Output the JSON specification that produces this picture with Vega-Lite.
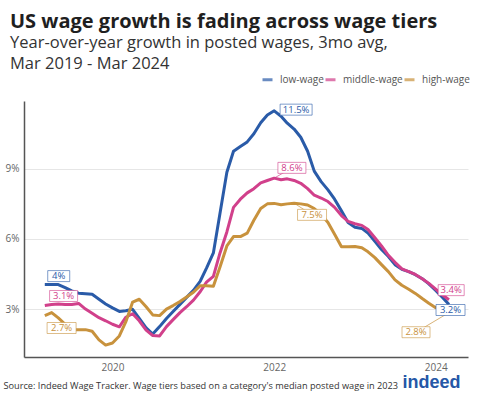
{
  "$schema": "https://vega.github.io/schema/vega-lite/v6.json",
  "width": 444,
  "height": 256,
  "autosize": {"type": "none"},
  "padding": {"left": 24, "top": 101, "right": 11, "bottom": 39},
  "background": "white",
  "config": {"font": "Open Sans", "view": {"stroke": null}},
  "title": {
    "text": "US wage growth is fading across wage tiers",
    "subtitle": ["Year-over-year growth in posted wages, 3mo avg,", "Mar 2019 - Mar 2024"],
    "anchor": "start",
    "frame": "group",
    "dx": -14,
    "offset": 1,
    "fontSize": 20,
    "fontWeight": "bold",
    "color": "#1f1f1f",
    "subtitleFontSize": 16.5,
    "subtitleColor": "#333333",
    "subtitlePadding": 3,
    "subtitleLineHeight": 21
  },
  "datasets": {
    "series": [
      {"date": "2019-03-01", "low-wage": 4.05, "middle-wage": 3.15, "high-wage": 2.72},
      {"date": "2019-04-01", "low-wage": 4.05, "middle-wage": 3.2, "high-wage": 2.85},
      {"date": "2019-05-01", "low-wage": 4.05, "middle-wage": 3.22, "high-wage": 2.62},
      {"date": "2019-06-01", "low-wage": 3.92, "middle-wage": 3.2, "high-wage": 2.35},
      {"date": "2019-07-01", "low-wage": 3.78, "middle-wage": 3.2, "high-wage": 2.12},
      {"date": "2019-08-01", "low-wage": 3.68, "middle-wage": 3.24, "high-wage": 2.12},
      {"date": "2019-09-01", "low-wage": 3.66, "middle-wage": 3.0, "high-wage": 2.12},
      {"date": "2019-10-01", "low-wage": 3.63, "middle-wage": 2.82, "high-wage": 2.05},
      {"date": "2019-11-01", "low-wage": 3.42, "middle-wage": 2.63, "high-wage": 1.68},
      {"date": "2019-12-01", "low-wage": 3.22, "middle-wage": 2.5, "high-wage": 1.46},
      {"date": "2020-01-01", "low-wage": 3.05, "middle-wage": 2.35, "high-wage": 1.55},
      {"date": "2020-02-01", "low-wage": 2.9, "middle-wage": 2.24, "high-wage": 1.85},
      {"date": "2020-03-01", "low-wage": 2.93, "middle-wage": 2.65, "high-wage": 2.45},
      {"date": "2020-04-01", "low-wage": 2.99, "middle-wage": 2.8, "high-wage": 3.3},
      {"date": "2020-05-01", "low-wage": 2.6, "middle-wage": 2.5, "high-wage": 3.42},
      {"date": "2020-06-01", "low-wage": 2.2, "middle-wage": 2.1, "high-wage": 3.1},
      {"date": "2020-07-01", "low-wage": 1.93, "middle-wage": 1.87, "high-wage": 2.75},
      {"date": "2020-08-01", "low-wage": 2.25, "middle-wage": 1.85, "high-wage": 2.72},
      {"date": "2020-09-01", "low-wage": 2.6, "middle-wage": 2.25, "high-wage": 3.0},
      {"date": "2020-10-01", "low-wage": 2.9, "middle-wage": 2.55, "high-wage": 3.15},
      {"date": "2020-11-01", "low-wage": 3.2, "middle-wage": 2.85, "high-wage": 3.32},
      {"date": "2020-12-01", "low-wage": 3.5, "middle-wage": 3.1, "high-wage": 3.52},
      {"date": "2021-01-01", "low-wage": 3.8, "middle-wage": 3.38, "high-wage": 3.72},
      {"date": "2021-02-01", "low-wage": 4.2, "middle-wage": 3.75, "high-wage": 4.0},
      {"date": "2021-03-01", "low-wage": 4.75, "middle-wage": 4.15, "high-wage": 4.0},
      {"date": "2021-04-01", "low-wage": 5.4, "middle-wage": 4.4, "high-wage": 3.98},
      {"date": "2021-05-01", "low-wage": 7.1, "middle-wage": 5.4, "high-wage": 4.8},
      {"date": "2021-06-01", "low-wage": 8.85, "middle-wage": 6.3, "high-wage": 5.7},
      {"date": "2021-07-01", "low-wage": 9.75, "middle-wage": 7.35, "high-wage": 6.1},
      {"date": "2021-08-01", "low-wage": 9.95, "middle-wage": 7.7, "high-wage": 6.1},
      {"date": "2021-09-01", "low-wage": 10.15, "middle-wage": 7.97, "high-wage": 6.25},
      {"date": "2021-10-01", "low-wage": 10.5, "middle-wage": 8.15, "high-wage": 6.8},
      {"date": "2021-11-01", "low-wage": 10.97, "middle-wage": 8.4, "high-wage": 7.3},
      {"date": "2021-12-01", "low-wage": 11.3, "middle-wage": 8.5, "high-wage": 7.5},
      {"date": "2022-01-01", "low-wage": 11.48, "middle-wage": 8.6, "high-wage": 7.52},
      {"date": "2022-02-01", "low-wage": 11.25, "middle-wage": 8.53, "high-wage": 7.46},
      {"date": "2022-03-01", "low-wage": 10.95, "middle-wage": 8.57, "high-wage": 7.5},
      {"date": "2022-04-01", "low-wage": 10.7, "middle-wage": 8.5, "high-wage": 7.53},
      {"date": "2022-05-01", "low-wage": 10.35, "middle-wage": 8.38, "high-wage": 7.5},
      {"date": "2022-06-01", "low-wage": 9.75, "middle-wage": 8.15, "high-wage": 7.45},
      {"date": "2022-07-01", "low-wage": 8.9, "middle-wage": 7.87, "high-wage": 7.3},
      {"date": "2022-08-01", "low-wage": 8.45, "middle-wage": 7.75, "high-wage": 7.05},
      {"date": "2022-09-01", "low-wage": 8.1, "middle-wage": 7.6, "high-wage": 6.7},
      {"date": "2022-10-01", "low-wage": 7.7, "middle-wage": 7.35, "high-wage": 6.2},
      {"date": "2022-11-01", "low-wage": 7.2, "middle-wage": 7.0, "high-wage": 5.67},
      {"date": "2022-12-01", "low-wage": 6.7, "middle-wage": 6.75, "high-wage": 5.67},
      {"date": "2023-01-01", "low-wage": 6.5, "middle-wage": 6.65, "high-wage": 5.68},
      {"date": "2023-02-01", "low-wage": 6.45, "middle-wage": 6.58, "high-wage": 5.62},
      {"date": "2023-03-01", "low-wage": 6.25, "middle-wage": 6.4, "high-wage": 5.45},
      {"date": "2023-04-01", "low-wage": 5.9, "middle-wage": 6.05, "high-wage": 5.2},
      {"date": "2023-05-01", "low-wage": 5.55, "middle-wage": 5.7, "high-wage": 4.9},
      {"date": "2023-06-01", "low-wage": 5.25, "middle-wage": 5.3, "high-wage": 4.6},
      {"date": "2023-07-01", "low-wage": 4.9, "middle-wage": 5.0, "high-wage": 4.25},
      {"date": "2023-08-01", "low-wage": 4.7, "middle-wage": 4.72, "high-wage": 4.02},
      {"date": "2023-09-01", "low-wage": 4.6, "middle-wage": 4.6, "high-wage": 3.85},
      {"date": "2023-10-01", "low-wage": 4.47, "middle-wage": 4.48, "high-wage": 3.67},
      {"date": "2023-11-01", "low-wage": 4.3, "middle-wage": 4.3, "high-wage": 3.45},
      {"date": "2023-12-01", "low-wage": 4.08, "middle-wage": 4.1, "high-wage": 3.25},
      {"date": "2024-01-01", "low-wage": 3.8, "middle-wage": 3.85, "high-wage": 3.06},
      {"date": "2024-02-01", "low-wage": 3.5, "middle-wage": 3.6, "high-wage": 2.97},
      {"date": "2024-03-01", "low-wage": 3.2, "middle-wage": 3.4, "high-wage": 2.85}
    ],
    "labels": [
      {"tier": "low-wage", "text": "4%", "date": "2019-05-03", "v": 4.41, "adate": "2019-03-01", "av": 4.05},
      {"tier": "middle-wage", "text": "3.1%", "date": "2019-05-25", "v": 3.56, "adate": "2019-03-01", "av": 3.15},
      {"tier": "high-wage", "text": "2.7%", "date": "2019-05-16", "v": 2.19, "adate": "2019-03-01", "av": 2.72},
      {"tier": "low-wage", "text": "11.5%", "date": "2022-04-10", "v": 11.53, "adate": "2022-01-01", "av": 11.48},
      {"tier": "middle-wage", "text": "8.6%", "date": "2022-03-22", "v": 9.04, "adate": "2022-01-01", "av": 8.6},
      {"tier": "high-wage", "text": "7.5%", "date": "2022-06-21", "v": 7.03, "adate": "2022-04-01", "av": 7.53},
      {"tier": "middle-wage", "text": "3.4%", "date": "2024-03-11", "v": 3.81, "adate": "2024-03-01", "av": 3.4},
      {"tier": "low-wage", "text": "3.2%", "date": "2024-03-08", "v": 2.96, "adate": "2024-03-01", "av": 3.2},
      {"tier": "high-wage", "text": "2.8%", "date": "2023-10-04", "v": 2.01, "adate": "2024-03-01", "av": 2.85}
    ]
  },
  "encoding": {
    "x": {
      "field": "date",
      "type": "temporal",
      "scale": {"domain": [{"year": 2018, "month": 11, "date": 27}, {"year": 2024, "month": 5, "date": 26}]},
      "axis": {
        "values": [{"year": 2020, "month": 1, "date": 1}, {"year": 2022, "month": 1, "date": 1}, {"year": 2024, "month": 1, "date": 1}],
        "format": "%Y",
        "grid": false,
        "ticks": false,
        "tickSize": 0,
        "labelPadding": 5,
        "labelFontSize": 10,
        "labelColor": "#666666",
        "domainColor": "#555555",
        "domainWidth": 1.5,
        "title": "Source: Indeed Wage Tracker. Wage tiers based on a category's median posted wage in 2023",
        "titleFontSize": 9.2,
        "titleFontWeight": "normal",
        "titleColor": "#333333",
        "titleAnchor": "start",
        "titleAlign": "left",
        "titleBaseline": "middle",
        "titleX": -21,
        "titleY": 28
      }
    },
    "y": {
      "field": "v",
      "type": "quantitative",
      "scale": {"domain": [0.95, 11.9]},
      "axis": {
        "values": [3, 6, 9],
        "labelExpr": "datum.value + '%'",
        "ticks": false,
        "tickSize": 0,
        "labelPadding": 5,
        "labelFontSize": 10,
        "labelColor": "#666666",
        "domainColor": "#555555",
        "domainWidth": 1.5,
        "gridColor": "#e6e6e6",
        "title": null
      }
    },
    "color": {
      "field": "tier",
      "type": "nominal",
      "scale": {"domain": ["low-wage", "middle-wage", "high-wage"], "range": ["#2a5ba8", "#d1408b", "#c8923d"]},
      "legend": {
        "title": null,
        "orient": "none",
        "legendX": 237,
        "legendY": -28,
        "direction": "horizontal",
        "symbolType": "stroke",
        "symbolStrokeWidth": 3,
        "symbolSize": 100,
        "labelFontSize": 10,
        "labelColor": "#555555",
        "labelOffset": 6,
        "columnPadding": -6
      }
    }
  },
  "layer": [
    {
      "layer": [
        {
          "data": {"name": "series"},
          "transform": [{"fold": ["low-wage", "middle-wage", "high-wage"], "as": ["tier", "v"]}],
          "mark": {"type": "line", "strokeWidth": 3, "strokeJoin": "round"}
        },
        {
          "data": {"name": "labels"},
          "transform": [{"filter": {"field": "text", "oneOf": ["8.6%", "7.5%", "2.8%"]}}],
          "mark": {"type": "rule", "strokeWidth": 1, "opacity": 0.7},
          "encoding": {"x2": {"field": "adate"}, "y2": {"field": "av"}}
        },
        {
          "data": {"name": "labels"},
          "mark": {"type": "point", "filled": false, "fill": "white", "fillOpacity": 1, "opacity": 1, "strokeWidth": 1, "strokeOpacity": 0.6, "size": 400},
          "encoding": {
            "shape": {
              "field": "text",
              "type": "nominal",
              "legend": null,
              "scale": {
                "domain": ["4%", "3.1%", "2.7%", "11.5%", "8.6%", "7.5%", "3.4%", "3.2%", "2.8%"],
                "range": [
                  "M-1.1,-0.55H1.1V0.55H-1.1Z",
                  "M-1.4,-0.55H1.4V0.55H-1.4Z",
                  "M-1.45,-0.55H1.45V0.55H-1.45Z",
                  "M-1.6,-0.55H1.6V0.55H-1.6Z",
                  "M-1.4,-0.55H1.4V0.55H-1.4Z",
                  "M-1.45,-0.55H1.45V0.55H-1.45Z",
                  "M-1.3,-0.55H1.3V0.55H-1.3Z",
                  "M-1.45,-0.55H1.45V0.55H-1.45Z",
                  "M-1.4,-0.55H1.4V0.55H-1.4Z"
                ]
              }
            }
          }
        }
      ]
    },
    {
      "data": {"name": "labels"},
      "mark": {"type": "text", "fontSize": 9.5, "align": "center", "baseline": "middle"},
      "encoding": {
        "text": {"field": "text"},
        "y": {
          "field": "v",
          "type": "quantitative",
          "scale": {"domain": [0.95, 11.9]},
          "axis": {
            "orient": "right",
            "labels": false,
            "ticks": false,
            "domain": false,
            "grid": false,
            "title": "indeed",
            "titleAngle": 0,
            "titleX": -37,
            "titleY": 281,
            "titleAlign": "center",
            "titleBaseline": "middle",
            "titleFontSize": 18,
            "titleFontWeight": "bold",
            "titleFont": "Liberation Sans",
            "titleColor": "#2557a7"
          }
        }
      }
    }
  ],
  "resolve": {"axis": {"y": "independent"}}
}
